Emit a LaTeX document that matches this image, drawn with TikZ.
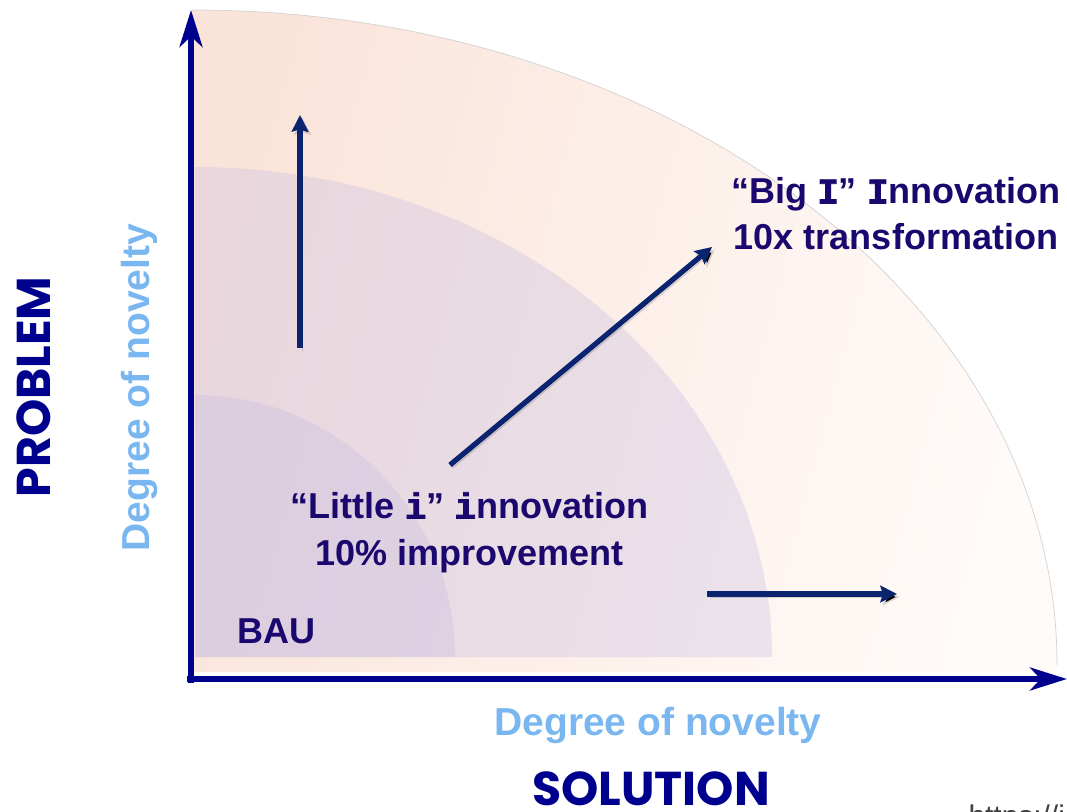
\documentclass[tikz,border=0pt]{standalone}
\usepackage{fontspec}
\setmainfont{Liberation Sans}
\newfontfamily\slab{Liberation Mono}[BoldFeatures={FakeBold=2.2}]
\newfontfamily\geo{Poppins}
\usetikzlibrary{arrows.meta,calc}
\definecolor{axisblue}{RGB}{0,0,142}
\definecolor{arrowblue}{RGB}{10,36,112}
\definecolor{labelblue}{RGB}{26,8,110}
\definecolor{novelty}{RGB}{122,183,240}
\definecolor{peachA}{RGB}{250,228,218}
\definecolor{peachB}{RGB}{255,251,249}
\definecolor{lilac}{RGB}{200,190,225}
\newcommand{\biglabel}{\fontsize{20.5}{26.5}\selectfont\bfseries}

\begin{document}
\begin{tikzpicture}[thick,
  axis/.style={line width=3.4pt, draw=axisblue, -{Stealth[length=21pt,width=13pt,inset=6pt]}},
  growth/.style={line width=3pt, draw=arrowblue, -{Stealth[length=9.5pt,width=9.5pt,inset=1.5pt]},
    preaction={draw=black, draw opacity=.15, transform canvas={shift={(.05,-.06)}}}},
  lbl/.style={text=labelblue, font=\biglabel, align=center},
  novel/.style={text=novelty, font=\fontsize{22.2}{26}\selectfont\bfseries},
  side/.style={text=axisblue, font=\geo\bfseries\fontsize{27}{30}\selectfont}
]
\useasboundingbox (0,0) rectangle (21.34,16.22);
\clip (0,0) rectangle (21.34,16.22);

\coordinate (O) at (3.82,2.64);
\coordinate (Otop) at (3.82,16.02);
\coordinate (Oend) at (21.34,2.64);
\coordinate (Ostart) at ($(O) + (0,-.08)$);
\coordinate (Hstart) at ($(O) + (-.08,0)$);

\shade[left color=peachA, right color=peachB, shading angle=75] (3.84,2.78) -- (3.84,16.02) arc[start angle=90, end angle=0, x radius=17.3, y radius=13.1] -- (21.14,2.78) -- cycle;
\draw[thin, gray!35] (3.84,16.02) arc[start angle=90, end angle=0, x radius=17.3, y radius=13.1];

\fill[lilac, fill opacity=.35] (3.9,3.08) -- (3.9,12.88) arc[start angle=90, end angle=0, x radius=11.54, y radius=9.8] -- cycle;
\fill[lilac, fill opacity=.35] (3.9,3.08) -- (3.9,8.32) arc[start angle=90, end angle=0, x radius=5.2, y radius=5.24] -- cycle;

\draw[axis] (Ostart) -- (Otop);
\draw[axis] (Hstart) -- (Oend);

\coordinate (A) at (6.0,9.26);
\coordinate (A') at (6.0,13.92);
\coordinate (B) at (9.0,6.92);
\coordinate (B') at (14.24,11.28);
\coordinate (C) at (14.14,4.34);
\coordinate (C') at (17.94,4.34);
\draw[growth] (A) -- (A');
\draw[growth] (B) -- (B');
\draw[growth] (C) -- (C');

\node[lbl, anchor=base] (bigI) at (17.92,11.22) {“Big {\slab I}” {\slab I}nnovation\\10x transformation};
\node[lbl, anchor=base] (littleI) at (9.39,4.92) {“Little {\slab i}” {\slab i}nnovation\\10\% improvement};
\node[lbl, anchor=base] (bau) at (5.54,3.36) {BAU};

\node[side, rotate=90] (problem) at (0.68,8.48) {PROBLEM};
\node[novel, rotate=90] (noveltyY) at (2.78,8.47) {Degree of novelty};
\node[novel] (noveltyX) at (13.16,1.71) {Degree of novelty};
\node[side] (solution) at (13.02,0.44) {SOLUTION};

\node[anchor=base west, text=black!75, font=\fontsize{17}{20}\selectfont] (src) at (19.24,-0.3) {https://i};
\end{tikzpicture}
\end{document}
